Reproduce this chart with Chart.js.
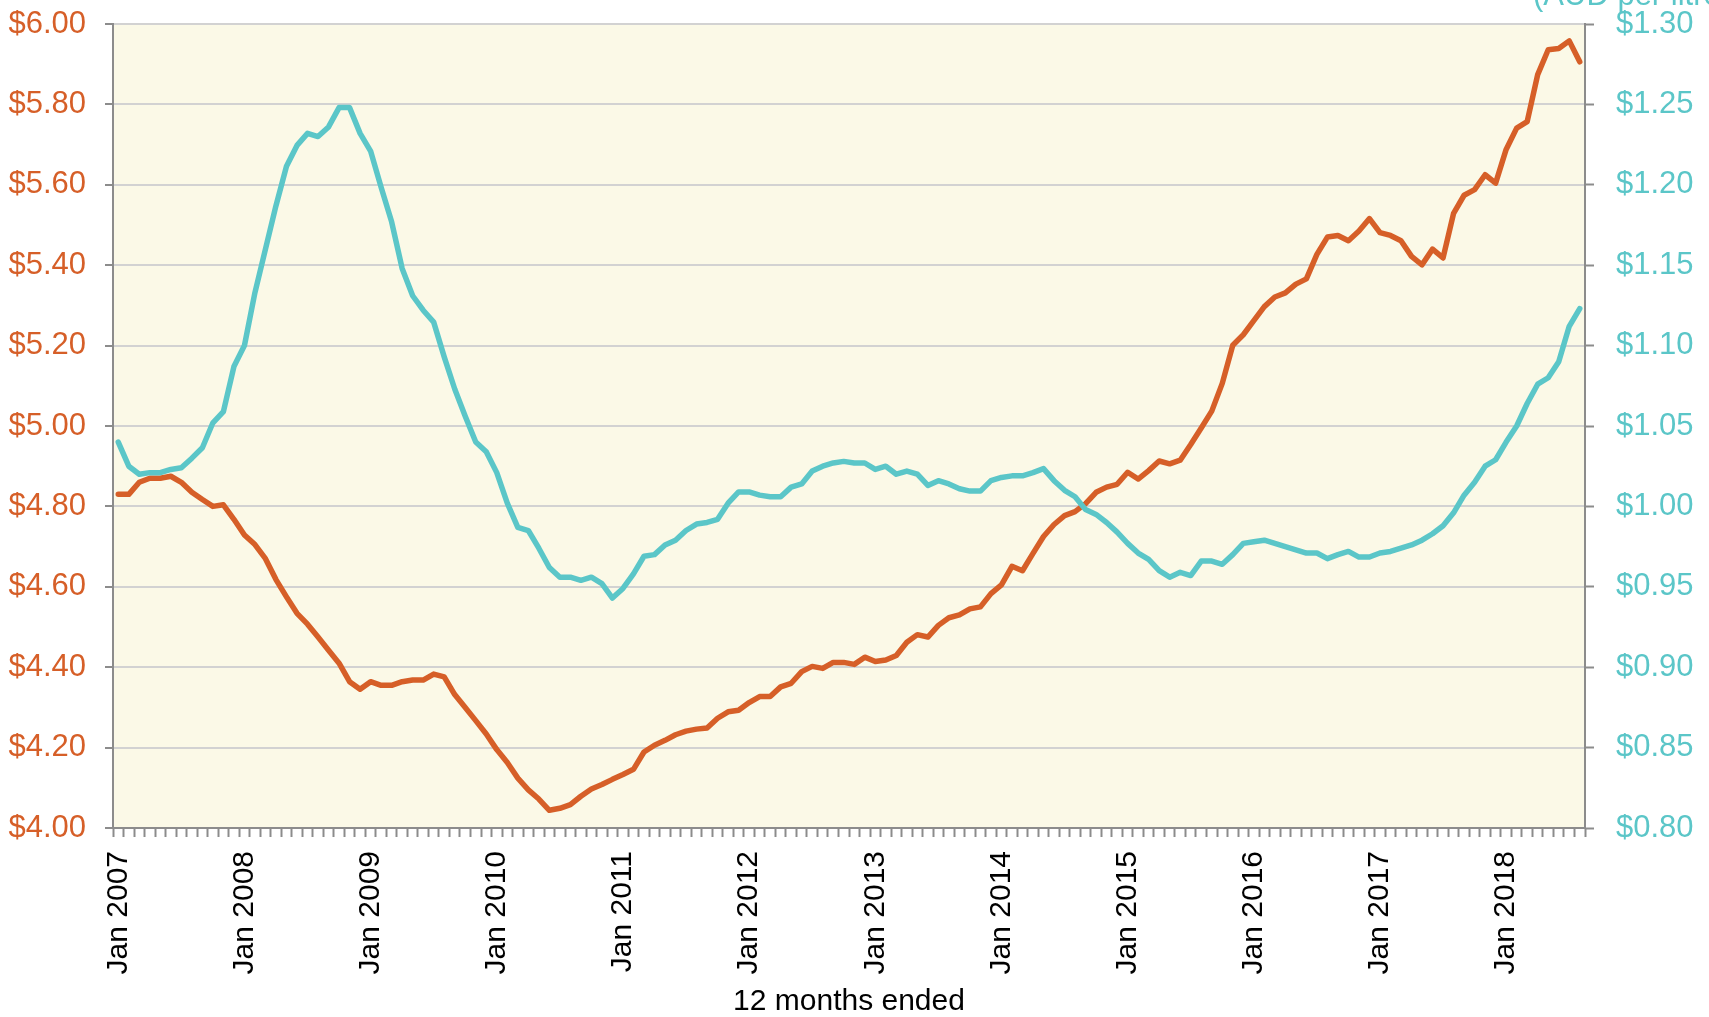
<!DOCTYPE html>
<html>
<head>
<meta charset="utf-8">
<title>Price and exchange rate, 12 months ended</title>
<script src="https://cdn.jsdelivr.net/npm/chart.js@4.4.1/dist/chart.umd.min.js"></script>
<style>
  html, body { margin: 0; padding: 0; background: #fff; }
  #wrap { width: 1709px; height: 1017px; }
</style>
</head>
<body>
<div id="wrap"><canvas id="chart" width="1709" height="1017"></canvas></div>
<script>
// ---- data -------------------------------------------------------------
const MONTHS = ['Jan', 'Feb', 'Mar', 'Apr', 'May', 'Jun', 'Jul', 'Aug', 'Sep', 'Oct', 'Nov', 'Dec'];
const YEARS = [2007, 2008, 2009, 2010, 2011, 2012, 2013, 2014, 2015, 2016, 2017, 2018];
const LAST_MONTH = 'Aug 2018';

// left axis series (orange), monthly Jan 2007 - Aug 2018
const leftValues = [
  4.83, 4.83, 4.86, 4.87, 4.87, 4.875, 4.86, 4.835, 4.817, 4.80, 4.804, 4.768,
  4.729, 4.705, 4.67, 4.618, 4.575, 4.534, 4.507, 4.475, 4.442, 4.41, 4.364, 4.345,
  4.364, 4.355, 4.355, 4.364, 4.368, 4.368, 4.383, 4.376, 4.332, 4.30, 4.267, 4.234,
  4.195, 4.163, 4.124, 4.095, 4.072, 4.044, 4.049, 4.058, 4.079, 4.097, 4.108, 4.121,
  4.133, 4.146, 4.189, 4.206, 4.218, 4.232, 4.241, 4.246, 4.249, 4.273, 4.289, 4.293,
  4.312, 4.327, 4.327, 4.351, 4.360, 4.389, 4.402, 4.397, 4.412, 4.412, 4.407, 4.425,
  4.414, 4.418, 4.429, 4.462, 4.481, 4.475, 4.504, 4.523, 4.530, 4.545, 4.550, 4.583,
  4.605, 4.651, 4.640, 4.683, 4.725, 4.755, 4.777, 4.787, 4.807, 4.835, 4.848, 4.855,
  4.885, 4.868, 4.889, 4.913, 4.906, 4.915, 4.954, 4.995, 5.037, 5.106, 5.201, 5.227,
  5.262, 5.297, 5.321, 5.331, 5.353, 5.366, 5.427, 5.470, 5.474, 5.461, 5.485, 5.516,
  5.481, 5.474, 5.461, 5.422, 5.401, 5.440, 5.418, 5.529, 5.574, 5.588, 5.625, 5.604,
  5.688, 5.741, 5.757, 5.874, 5.936, 5.939, 5.958, 5.906
];

// right axis series (teal)
const rightValues = [
  1.040, 1.025, 1.020, 1.021, 1.021, 1.023, 1.024, 1.030, 1.0365, 1.052, 1.059, 1.087,
  1.100, 1.133, 1.160, 1.187, 1.2115, 1.2245, 1.232, 1.230, 1.236, 1.248, 1.248, 1.232,
  1.221, 1.1985, 1.177, 1.148, 1.131, 1.122, 1.1146, 1.093, 1.073, 1.056, 1.040, 1.034,
  1.021, 1.002, 0.987, 0.985, 0.974, 0.962, 0.956, 0.956, 0.954, 0.956, 0.952, 0.943,
  0.949, 0.958, 0.969, 0.970, 0.976, 0.979, 0.985, 0.989, 0.990, 0.992, 1.002, 1.009,
  1.009, 1.007, 1.006, 1.006, 1.012, 1.014, 1.022, 1.025, 1.027, 1.028, 1.027, 1.027,
  1.023, 1.025, 1.020, 1.022, 1.020, 1.013, 1.016, 1.014, 1.011, 1.0095, 1.0095, 1.016,
  1.018, 1.019, 1.019, 1.021, 1.0235, 1.016, 1.010, 1.006, 0.998, 0.995, 0.990, 0.984,
  0.977, 0.971, 0.967, 0.960, 0.956, 0.959, 0.957, 0.966, 0.966, 0.964, 0.970, 0.977,
  0.978, 0.979, 0.977, 0.975, 0.973, 0.971, 0.971, 0.9675, 0.970, 0.972, 0.9685, 0.9685,
  0.971, 0.972, 0.974, 0.976, 0.979, 0.983, 0.988, 0.996, 1.007, 1.015, 1.025, 1.029,
  1.040, 1.050, 1.064, 1.076, 1.080, 1.090, 1.112, 1.123
];

const LEFT_MIN = 4.0, LEFT_MAX = 6.0, LEFT_STEP = 0.2;
const RIGHT_MIN = 0.8, RIGHT_MAX = 1.3, RIGHT_STEP = 0.05;
const X_TITLE = '12 months ended';
const RIGHT_UNIT = '(AUD per litre)';

// ---- look -------------------------------------------------------------
const ORANGE = '#D65F28';
const TEAL = '#5BC6C8';
const GREY = '#8C8C8C';
const GRID = '#D2D2D2';
const FONT = '"Liberation Sans", Arial, sans-serif';

// category labels, one per month
const categories = [];
for (const y of YEARS) {
  for (const m of MONTHS) {
    categories.push(m + ' ' + y);
    if (m + ' ' + y === LAST_MONTH) break;
  }
}

const plotBg = {
  id: 'plotBg',
  beforeDraw(chart) {
    const { ctx, chartArea: a } = chart;
    ctx.save();
    ctx.fillStyle = '#FBF9E7';
    ctx.fillRect(a.left, a.top, a.right - a.left, a.bottom - a.top);
    ctx.restore();
  }
};

// unit note above the right axis (sits partly off the top edge)
const unitNote = {
  id: 'unitNote',
  afterDraw(chart) {
    const { ctx, chartArea: a } = chart;
    ctx.save();
    ctx.font = '31px ' + FONT;
    ctx.fillStyle = TEAL;
    ctx.textAlign = 'left';
    ctx.textBaseline = 'alphabetic';
    ctx.fillText(RIGHT_UNIT, a.right - 52, 5);
    ctx.restore();
  }
};

// keep the plot box fixed: no extra room for half labels
function noOverflow(s) { s.paddingTop = 0; s.paddingBottom = 0; s.paddingLeft = 0; s.paddingRight = 0; }

new Chart(document.getElementById('chart'), {
  type: 'line',
  data: {
    labels: categories,
    datasets: [
      { label: 'Right axis', data: rightValues, yAxisID: 'y1', borderColor: TEAL, backgroundColor: TEAL },
      { label: 'Left axis', data: leftValues, yAxisID: 'y', borderColor: ORANGE, backgroundColor: ORANGE }
    ]
  },
  options: {
    responsive: false,
    animation: false,
    layout: { padding: { top: 24, left: 0, right: 0, bottom: 0 } },
    elements: {
      point: { radius: 0, hoverRadius: 0 },
      line: { borderWidth: 5.5, tension: 0, borderJoinStyle: 'round', borderCapStyle: 'round' }
    },
    plugins: { legend: { display: false }, tooltip: { enabled: false } },
    scales: {
      x: {
        type: 'category',
        offset: true,
        grid: { offset: true, drawOnChartArea: false, tickLength: 9, tickColor: GREY, tickWidth: 2 },
        border: { color: GREY, width: 2 },
        ticks: {
          autoSkip: false, maxRotation: 90, minRotation: 90, padding: 14,
          color: '#000', font: { family: FONT, size: 30 },
          callback: (v, i) => i % 12 === 0 ? categories[i] : ''
        },
        title: { display: true, text: X_TITLE, color: '#000', font: { family: FONT, size: 30, lineHeight: 1 }, padding: 0 },
        afterFit(s) { s.height = 189; noOverflow(s); }
      },
      y: {
        position: 'left',
        min: LEFT_MIN, max: LEFT_MAX,
        grid: { color: GRID, lineWidth: 2, tickLength: 8, tickColor: GREY, tickWidth: 2 },
        border: { color: GREY, width: 2 },
        ticks: {
          stepSize: LEFT_STEP, padding: 19, color: ORANGE, font: { family: FONT, size: 31 },
          callback: v => '$' + Number(v).toFixed(2)
        },
        afterFit(s) { s.width = 113; noOverflow(s); }
      },
      y1: {
        position: 'right',
        min: RIGHT_MIN, max: RIGHT_MAX,
        grid: { drawOnChartArea: false, tickLength: 9, tickColor: GREY, tickWidth: 2 },
        border: { color: GREY, width: 2 },
        ticks: {
          stepSize: RIGHT_STEP, padding: 22, color: TEAL, font: { family: FONT, size: 31 },
          callback: v => '$' + Number(v).toFixed(2)
        },
        afterFit(s) { s.width = 124; noOverflow(s); }
      }
    }
  },
  plugins: [plotBg, unitNote]
});
</script>
</body>
</html>
